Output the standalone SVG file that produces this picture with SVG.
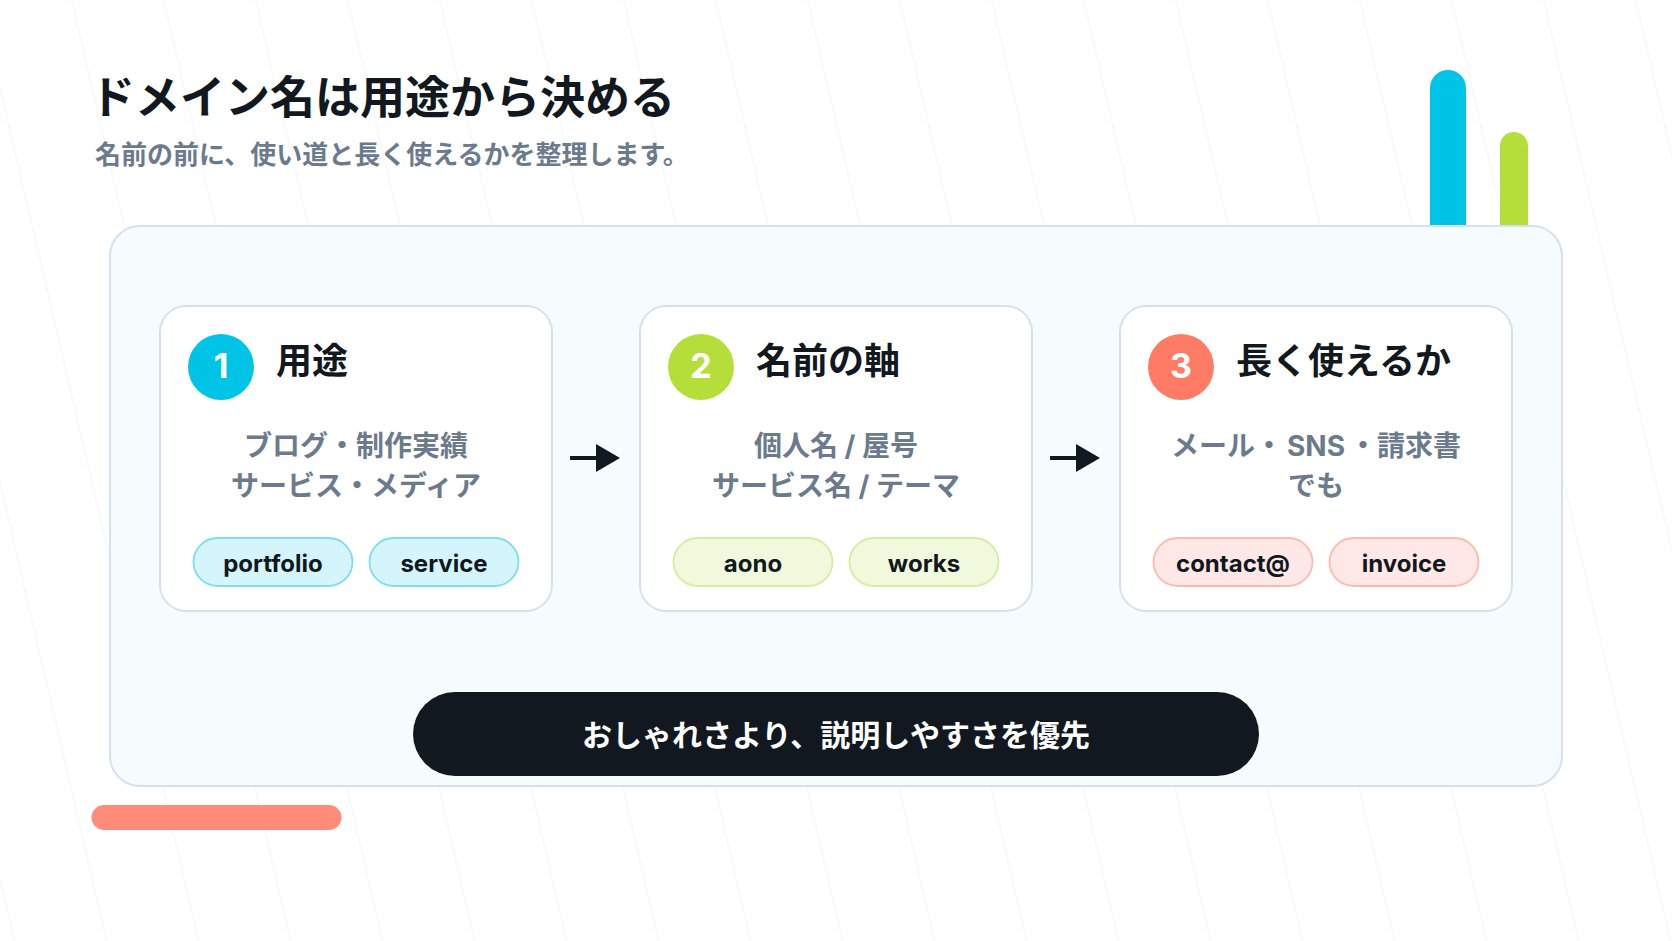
<svg xmlns="http://www.w3.org/2000/svg" width="1672" height="941" viewBox="0 0 1672 941">
<defs>
<pattern id="diag" width="92" height="100" patternUnits="userSpaceOnUse" patternTransform="translate(71 0) skewX(13.1)">
<rect x="0" y="0" width="1.2" height="100" fill="#f3f5f8"/>
</pattern>
<marker id="ah" viewBox="0 0 24 28" refX="0" refY="14" markerWidth="24" markerHeight="28" markerUnits="userSpaceOnUse" orient="auto">
<path d="M0,0 L24,14 L0,28 Z" fill="#111820"/>
</marker>
</defs>
<style>
.jp{font-family:"Noto Sans CJK JP","Noto Sans CJK SC",sans-serif;font-weight:700}
.mix{font-family:Inter,"Noto Sans CJK JP",sans-serif;font-weight:700}
.title{font-size:45px;fill:#111820}
.sub{font-size:26px;fill:#6b7a8d}
.card{fill:#ffffff;stroke:#d5e2ee;stroke-width:2}
.ctitle{font-size:36px;fill:#111820}
.desc{font-size:28px;fill:#6b7a8d;text-anchor:middle}
.num{font-family:Inter,"Liberation Sans",sans-serif;font-weight:700;font-size:34px;fill:#ffffff;text-anchor:middle}
.tag{font-family:Inter,"Liberation Sans",sans-serif;font-weight:700;font-size:24px;fill:#111820;text-anchor:middle}
.t1{fill:#d4f5fb;stroke:#80dcef;stroke-width:1.8}
.t2{fill:#f0f9dc;stroke:#d6ec9e;stroke-width:1.8}
.t3{fill:#ffe8e5;stroke:#ffbaae;stroke-width:1.8}
.conn{stroke:#111820;stroke-width:4;fill:none}
</style>
<rect x="0" y="0" width="1672" height="941" fill="#ffffff"/>
<rect x="0" y="0" width="1672" height="941" fill="url(#diag)"/>

<g id="header">
<text class="jp title" x="90" y="114">ドメイン名は用途から決める</text>
<text class="jp sub" x="95" y="164">名前の前に、使い道と長く使えるかを整理します。</text>
</g>

<g id="deco">
<rect x="1430" y="70" width="36" height="180" rx="18" fill="#00c4e6"/>
<rect x="1500" y="132" width="28" height="120" rx="14" fill="#b5de3b"/>
<rect x="91.5" y="805" width="250" height="25" rx="12.5" fill="#ff8b79"/>
</g>

<g id="panel">
<rect x="110" y="226" width="1452" height="560" rx="30" fill="#f6fbfe" stroke="#d4e2ef" stroke-width="2"/>
</g>

<g id="card1">
<rect class="card" x="160" y="306" width="392" height="305" rx="26"/>
<circle cx="221" cy="367" r="33" fill="#00c4e6"/>
<text class="num" x="221" y="378">1</text>
<text class="jp ctitle" x="276" y="374">用途</text>
<text class="mix desc" x="356" y="456">ブログ・制作実績</text>
<text class="mix desc" x="356" y="496">サービス・メディア</text>
<rect class="t1" x="193.5" y="538" width="159" height="48" rx="24"/>
<text class="tag" x="273" y="572">portfolio</text>
<rect class="t1" x="369.5" y="538" width="149" height="48" rx="24"/>
<text class="tag" x="444" y="572">service</text>
</g>

<g id="card2">
<rect class="card" x="640" y="306" width="392" height="305" rx="26"/>
<circle cx="701" cy="367" r="33" fill="#b5de3b"/>
<text class="num" x="701" y="378">2</text>
<text class="jp ctitle" x="756" y="374">名前の軸</text>
<text class="mix desc" x="836" y="456">個人名 / 屋号</text>
<text class="mix desc" x="836" y="496">サービス名 / テーマ</text>
<rect class="t2" x="673.5" y="538" width="159" height="48" rx="24"/>
<text class="tag" x="753" y="572">aono</text>
<rect class="t2" x="849.5" y="538" width="149" height="48" rx="24"/>
<text class="tag" x="924" y="572">works</text>
</g>

<g id="card3">
<rect class="card" x="1120" y="306" width="392" height="305" rx="26"/>
<circle cx="1181" cy="367" r="33" fill="#ff7b63"/>
<text class="num" x="1181" y="378">3</text>
<text class="jp ctitle" x="1236" y="374">長く使えるか</text>
<text class="mix desc" x="1316" y="456">メール・<tspan dx="4">SNS</tspan><tspan dx="4">・請求書</tspan></text>
<text class="mix desc" x="1316" y="496">でも</text>
<rect class="t3" x="1153.5" y="538" width="159" height="48" rx="24"/>
<text class="tag" x="1233" y="572">contact@</text>
<rect class="t3" x="1329.5" y="538" width="149" height="48" rx="24"/>
<text class="tag" x="1404" y="572">invoice</text>
</g>

<g id="connectors">
<line class="conn" x1="570" y1="458" x2="596" y2="458" marker-end="url(#ah)"/>
<line class="conn" x1="1050" y1="458" x2="1076" y2="458" marker-end="url(#ah)"/>
</g>

<g id="note">
<rect x="413" y="692" width="846" height="84" rx="42" fill="#111820"/>
<text class="jp" x="836" y="746" font-size="30" fill="#ffffff" text-anchor="middle">おしゃれさより、説明しやすさを優先</text>
</g>
</svg>
